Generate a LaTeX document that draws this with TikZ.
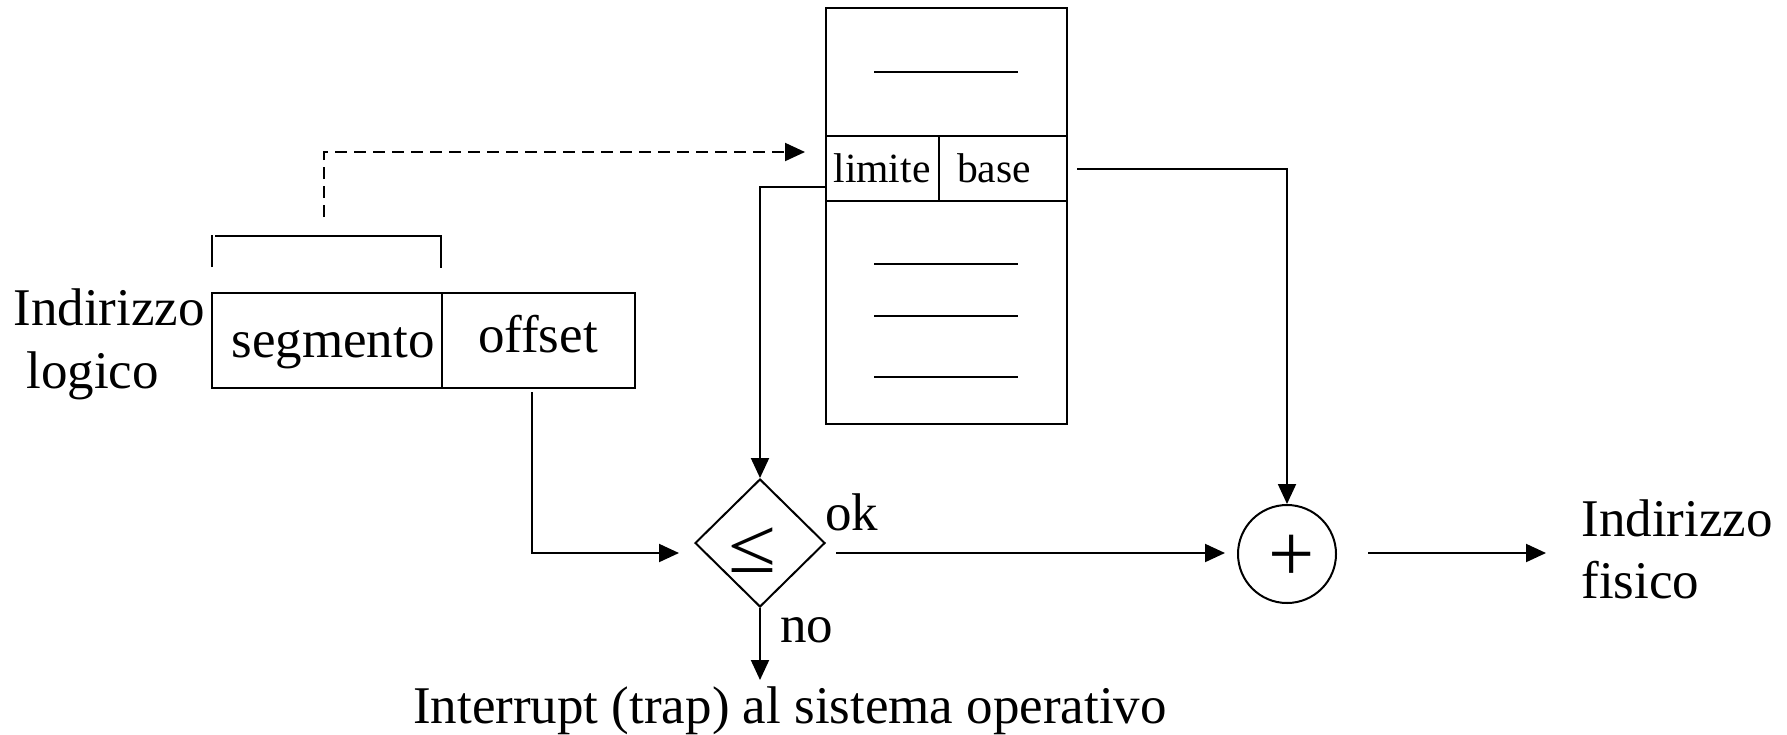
\documentclass[tikz,border=0pt]{standalone}
\usepackage{fontspec}
\setmainfont{Liberation Serif}
\usetikzlibrary{arrows.meta,shapes.geometric}
\tikzset{
  cell/.style={draw, line width=1pt, inner sep=0pt, rectangle},
  txt/.style={inner sep=0pt, font=\fontsize{26.5}{30}\selectfont},
  smalltxt/.style={inner sep=0pt, font=\fontsize{20.8}{24}\selectfont},
  conn/.style={line width=1pt, -{Triangle[length=10pt,width=9pt]}},
  plain/.style={line width=1pt},
  dashconn/.style={line width=1pt, dash pattern=on 6pt off 3.5pt, -{Triangle[length=10pt,width=9pt]}},
}
\begin{document}
\begin{tikzpicture}[x=0.5pt,y=-0.5pt]
\useasboundingbox (0,0) rectangle (1787,734);
% segment table
\node[cell, minimum width=120.5pt, minimum height=64pt] (ttop) at (946.5,72) {};
\node[cell, minimum width=56.5pt, minimum height=32.5pt] (lim) at (882.5,168.5) {};
\node[cell, minimum width=64pt, minimum height=32.5pt] (bas) at (1003,168.5) {};
\node[cell, minimum width=120.5pt, minimum height=111.5pt] (tbot) at (946.5,312.5) {};
\draw[plain] (874,72) -- (1018,72);
\draw[plain] (874,264) -- (1018,264);
\draw[plain] (874,316) -- (1018,316);
\draw[plain] (874,377) -- (1018,377);
\node[smalltxt, anchor=base] (limtxt) at (882,182) {limite};
\node[smalltxt, anchor=base] (bastxt) at (994,182) {base};
% logical address
\node[cell, minimum width=115pt, minimum height=47.5pt] (seg) at (327,340.5) {};
\node[cell, minimum width=96.5pt, minimum height=47.5pt] (off) at (538.5,340.5) {};
\node[txt, anchor=base] (segtxt) at (333,357) {segmento};
\node[txt, anchor=base] (offtxt) at (538,352) {offset};
\node[txt, anchor=base west] (il1) at (13,325) {Indirizzo};
\node[txt, anchor=base west] (il2) at (26,388) {logico};
% bracket
\draw[plain] (212,267) -- (212,235);
\draw[plain] (215,236) -- (441,236) -- (441,268);
% comparator
\node[draw, line width=1pt, diamond, aspect=1, inner sep=0pt, minimum width=65pt, minimum height=64pt] (cmp) at (760,543) {};
\node[inner sep=0pt, anchor=base, font=\fontsize{39}{44}\selectfont] (le) at (752,572) {\scalebox{1.12}[1]{≤}};
% adder
\node[draw, line width=1pt, circle, inner sep=0pt, minimum size=49pt] (sum) at (1287,554) {};
\node[inner sep=0pt, font=\fontsize{41}{44}\selectfont] (plus) at (1292,558) {+};
% coordinates
\coordinate (dashstart) at (324,217);
\coordinate (dashend) at (805,152);
\coordinate (limout) at (826,187);
\coordinate (offout) at (532,392);
\coordinate (cmpin) at (679,553);
\coordinate (okstart) at (836,553);
\coordinate (basestart) at (1077,169);
\coordinate (outstart) at (1368,553);
\coordinate (outend) at (1546,553);
\coordinate (noend) at (760,680);
% connectors
\draw[dashconn] (dashstart) |- (dashend);
\draw[conn] (limout) -| (cmp.north);
\draw[conn] (offout) |- (cmpin);
\draw[conn, shorten >=6pt] (okstart) -- (okstart -| sum.west);
\draw[conn] (basestart) -| (sum.north);
\draw[conn] (outstart) -- (outend);
\draw[conn] (cmp.south) -- (noend);
% labels
\node[txt, anchor=base west] (ok) at (825,530) {ok};
\node[txt, anchor=base west] (no) at (780,642) {no};
\node[txt, anchor=base] (trap) at (790,723) {Interrupt (trap) al sistema operativo};
\node[txt, anchor=base west] (if1) at (1581,536) {Indirizzo};
\node[txt, anchor=base west] (if2) at (1581,598) {fisico};
\end{tikzpicture}
\end{document}
